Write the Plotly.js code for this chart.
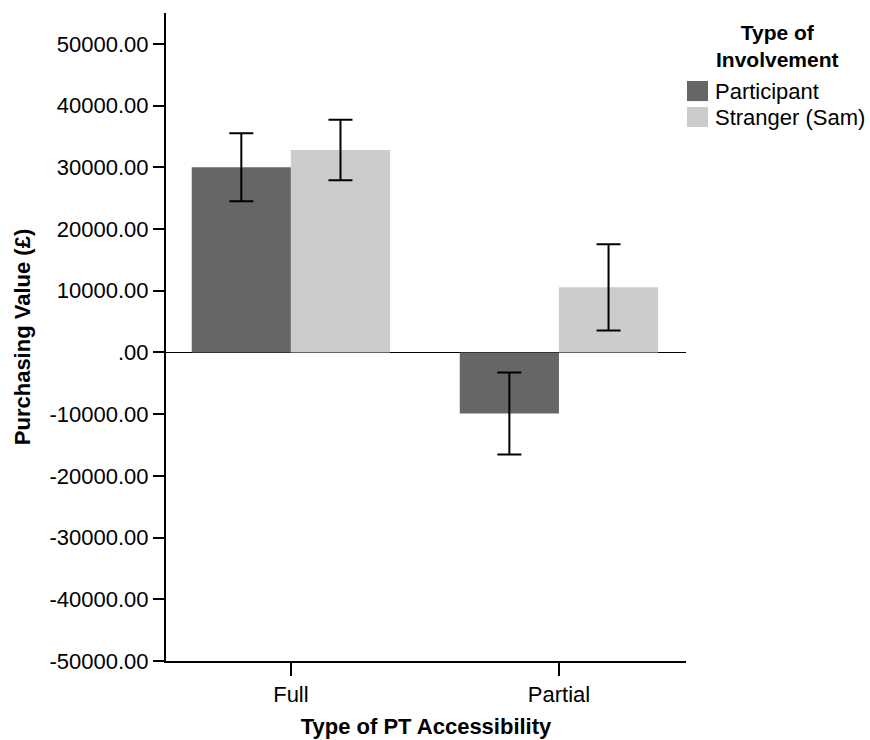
<!DOCTYPE html>
<html>
<head>
<meta charset="utf-8">
<script src="https://cdn.plot.ly/plotly-3.0.1.min.js"></script>
<style>html,body{margin:0;padding:0;background:#fff;}</style>
</head>
<body>
<div id="chart" style="width:870px;height:740px;"></div>
<script>
const categories = ["Full", "Partial"];
const seriesNames = ["Participant", "Stranger (Sam)"];
const seriesColors = ["#666666", "#cccccc"];
const participantValues = [30000, -9900];
const participantErr = [5500, 6650];
const strangerValues = [32800, 10550];
const strangerErr = [4900, 6980];
const yTicks = [-50000, -40000, -30000, -20000, -10000, 0, 10000, 20000, 30000, 40000, 50000];
const yTickLabels = ["-50000.00", "-40000.00", "-30000.00", "-20000.00", "-10000.00", ".00", "10000.00", "20000.00", "30000.00", "40000.00", "50000.00"];

const font = "Liberation Sans, Arial, sans-serif";
const errStyle = {type: "data", visible: true, color: "#000", thickness: 2, width: 12};

const traces = [
  {type: "bar", name: seriesNames[0], x: categories, y: participantValues,
   marker: {color: seriesColors[0], line: {width: 0}}, showlegend: false,
   error_y: Object.assign({array: participantErr}, errStyle)},
  {type: "bar", name: seriesNames[1], x: categories, y: strangerValues,
   marker: {color: seriesColors[1], line: {width: 0}}, showlegend: false,
   error_y: Object.assign({array: strangerErr}, errStyle)}
];

// custom legend (paper coordinates, to match the large swatches)
const legendRows = [0.8796, 0.8395];
const shapes = [];
const annotations = [
  {xref: "paper", yref: "paper", x: 1.1769, y: 0.949, xanchor: "center", yanchor: "middle",
   align: "center", text: "<b>Type of<br>Involvement</b>", showarrow: false,
   font: {family: font, size: 21, color: "#000"}}
];
seriesNames.forEach((n, i) => {
  const yc = legendRows[i];
  shapes.push({type: "rect", xref: "paper", yref: "paper",
    x0: 1.0019, x1: 1.0423, y0: yc - 0.0155, y1: yc + 0.0155,
    fillcolor: seriesColors[i], line: {width: 0}});
  annotations.push({xref: "paper", yref: "paper", x: 1.0519, y: yc, xanchor: "left", yanchor: "middle",
    text: n, showarrow: false, font: {family: font, size: 22, color: "#000"}});
});

const layout = {
  width: 870, height: 740,
  margin: {l: 166, r: 184, t: 13, b: 79},
  paper_bgcolor: "#fff", plot_bgcolor: "#fff",
  font: {family: font, size: 22, color: "#000"},
  barmode: "group", bargap: 0.26, bargroupgap: 0,
  showlegend: false,
  shapes: shapes,
  annotations: annotations,
  xaxis: {
    range: [-0.466, 1.474],
    showline: true, linecolor: "#000", linewidth: 2, mirror: false,
    ticks: "outside", ticklen: 13, tickcolor: "#000", tickwidth: 1.5,
    showgrid: false, zeroline: false,
    tickfont: {family: font, size: 22},
    title: {text: "<b>Type of PT Accessibility</b>", font: {family: font, size: 22}, standoff: 12}
  },
  yaxis: {
    range: [-50000, 55000],
    tickvals: yTicks, ticktext: yTickLabels,
    showline: true, linecolor: "#000", linewidth: 2,
    ticks: "outside", ticklen: 11, tickcolor: "#000", tickwidth: 2,
    showgrid: false, zeroline: true, zerolinecolor: "#000", zerolinewidth: 1.5,
    tickfont: {family: font, size: 22},
    title: {text: "<b>Purchasing Value (£)</b>", font: {family: font, size: 22}, standoff: 13}
  }
};

Plotly.newPlot("chart", traces, layout, {displayModeBar: false, staticPlot: true});
</script>
</body>
</html>
